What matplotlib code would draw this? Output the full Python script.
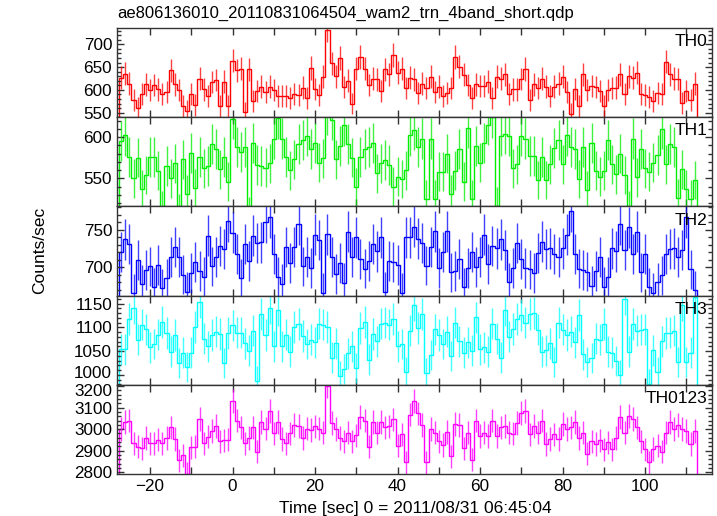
import numpy as np
import matplotlib
matplotlib.use('Agg')
import matplotlib.pyplot as plt
import matplotlib.transforms as mtransforms
from matplotlib.ticker import MultipleLocator

plt.rcParams['font.family'] = ['Liberation Sans', 'DejaVu Sans']

# 1 s bins, first bin centred at t = -27 s
t_start = -27
bin_width = 1.0

th0 = [627, 636, 614, 578, 561, 591, 612, 600, 611, 601, 591, 596, 643, 612, 599, 564, 554, 591, 567, 625,
       601, 587, 617, 622, 564, 618, 564,
       664, 643, 647, 551, 645, 576, 598, 607, 596, 607, 600, 587, 587, 587, 582, 591, 589, 605, 582, 648,
       602, 589, 629, 732, 658, 630, 670, 606, 620, 570, 647, 672, 647, 611, 625, 623, 598, 645, 634, 676,
       638, 647, 604,
       627, 623, 593, 614, 604, 629, 596, 607, 586, 593, 604, 672, 651, 633, 611, 582, 612, 609, 609, 618,
       583, 629, 625, 634, 591, 601, 601, 624, 646, 578, 612, 604, 625, 607, 587, 607, 614, 629, 596, 547,
       602, 565, 634, 600, 609, 606, 598, 565, 600, 604, 605, 634, 591, 630, 627, 638, 591, 589, 584, 575,
       593, 591, 662, 634, 625, 624, 571, 598, 578, 614]

th1 = [595, 602, 576, 550, 575, 537, 554, 576, 576, 559, 512, 565, 550, 568, 509, 573, 531, 581, 538, 576,
       562, 565, 592, 585, 561, 576, 546, 622, 588, 582, 588, 505, 593, 566, 565, 563, 568, 598, 623, 598,
       576, 560, 573, 592, 596, 601, 585, 593, 569, 574, 627, 621, 573, 589, 614, 592, 575, 539, 576, 585,
       588, 593, 556, 568, 572, 566, 540, 552, 549, 560, 602, 609, 588, 598, 525, 598, 525, 558, 558, 580,
       531, 559, 586, 546, 611, 525, 589, 569, 593, 615, 624, 517, 601, 604, 601, 562, 567, 601, 598, 577,
       577, 548, 576, 548, 567, 587, 596, 567, 602, 588, 586, 549, 588, 536, 593, 559, 552, 559, 596, 567,
       555, 580, 554, 512, 598, 551, 586, 562, 558, 569, 578, 610, 567, 592, 588, 526, 561, 537, 525, 548]

th2 = [720, 737, 731, 665, 710, 677, 696, 701, 673, 703, 672, 685, 713, 727, 714, 690, 667, 692, 707, 695,
       687, 742, 701, 714, 728, 724, 761, 746, 718, 685, 731, 708, 742, 732, 733, 760, 767, 718, 687, 678,
       727, 705, 727, 757, 701, 713, 699, 743, 736, 666, 744, 713, 691, 705, 679, 747, 714, 740, 711, 698,
       708, 731, 721, 740, 667, 708, 707, 703, 666, 740, 740, 754, 738, 732, 702, 727, 748, 699, 720, 748,
       693, 695, 711, 673, 699, 720, 700, 713, 743, 704, 728, 725, 737, 723, 680, 699, 732, 711, 699, 697,
       692, 719, 734, 724, 725, 717, 713, 725, 743, 775, 717, 698, 696, 694, 675, 695, 713, 674, 687, 725,
       721, 757, 723, 753, 717, 747, 693, 717, 673, 666, 680, 689, 717, 724, 725, 713, 723, 767, 697, 669]

th3 = [1054, 1054, 1118, 1140, 1074, 1106, 1096, 1058, 1065, 1085, 1112, 1088, 1049, 1084, 1025, 1047,
       1016, 1047, 1101, 1154, 1076, 1060, 1084, 1091, 1086, 1025, 1088, 1104, 1089, 1089, 1067, 1051,
       1093, 988, 1129, 1084, 1140, 1060, 1137, 1060, 1085, 1049, 1101, 1107, 1082, 1065, 1074, 1069,
       1108, 1106, 1101, 1036, 1067, 998, 1013, 1045, 1060, 1014, 1099, 1111, 1032, 1086, 1071, 1108,
       1110, 1106, 1118, 1060, 1065, 1005, 1093, 1148, 1099, 1128, 1003, 1042, 1096, 1084, 1065, 1091,
       1040, 1110, 1071, 1047, 1069, 1051, 1121, 1054, 1058, 1049, 1108, 1076, 1036, 1137, 1080, 1097,
       1118, 1126, 1110, 1128, 1130, 1095, 1049, 1052, 1067, 1027, 1110, 1095, 1084, 1091, 1069, 1126,
       1043, 1027, 1035, 1076, 1074, 1107, 1049, 1047, 1029, 999, 1160, 1049, 1107, 1093, 1095, 1096,
       980, 1052, 1005, 1071, 1088, 1089, 1093, 1027, 1148, 1027, 1047, 1165]

th0123 = [3000, 3032, 3040, 2935, 2919, 2911, 2960, 2935, 2935, 2952, 2935, 2960, 3008, 2955, 2855, 2879,
          2794, 2916, 2919, 3048, 2935, 2965, 2992, 3016, 2944, 2948, 2952, 3132, 3040, 3008, 2935, 2960,
          3008, 2895, 3032, 3003, 3085, 2981, 3032, 2955, 2935, 2981, 3019, 3016, 2960, 3003, 2997, 3013,
          3003, 2984, 3200, 3029, 3000, 2960, 2944, 2984, 2944, 2971, 3056, 3040, 2919, 3035, 2984, 3032,
          3008, 3013, 3045, 2923, 2976, 2847, 3068, 3132, 3073, 3019, 2847, 3000, 2984, 2944, 2927, 2987,
          2874, 3024, 3019, 2911, 2984, 2858, 3040, 2968, 2984, 2968, 3040, 2968, 3008, 3016, 2984, 2979,
          3029, 3076, 3084, 2976, 3016, 2984, 3040, 2932, 2955, 2976, 2955, 3024, 3000, 3008, 3032, 2960,
          2984, 2887, 2944, 2932, 2948, 2906, 2939, 2906, 2960, 3056, 2984, 3061, 3048, 3008, 2944, 2906,
          2847, 2908, 2923, 2895, 2984, 3035, 3000, 3019, 3000, 2992, 2931, 2992]

names = ['TH0', 'TH1', 'TH2', 'TH3', 'TH0123']
series = [th0, th1, th2, th3, th0123]
colors = ['#ff0000', '#00ee00', '#0000ff', '#00ffff', '#ff00ff']
ylims = [(540, 736), (516, 624), (662, 781), (979, 1167), (2792, 3206)]
ymajor = [50, 50, 50, 50, 100]
yminor = [10, 10, 10, 10, 20]

W, H = 717, 516
fig = plt.figure(figsize=(W / 100, H / 100), dpi=100)

left, right = 117, 712
top, bottom = 28, 474
ph = (bottom - top) / 5.0

axes = []
for i, (name, vals) in enumerate(zip(names, series)):
    vals = np.array(vals, dtype=float)
    t = t_start + np.arange(len(vals)) * bin_width
    edges = np.append(t - bin_width / 2, t[-1] + bin_width / 2)
    err = np.sqrt(vals * bin_width) / bin_width  # poisson error of the rate

    y0 = top + i * ph
    ax = fig.add_axes([left / W, 1 - (y0 + ph) / H, (right - left) / W, ph / H])
    ax.stairs(vals, edges, color=colors[i], lw=1.0)
    ax.errorbar(t, vals, yerr=err, fmt='none', ecolor=colors[i], elinewidth=1.0, alpha=0.75)

    ax.set_xlim(-28, 116.2)
    ax.set_ylim(*ylims[i])
    ax.xaxis.set_major_locator(MultipleLocator(20))
    ax.xaxis.set_minor_locator(MultipleLocator(10))
    ax.yaxis.set_major_locator(MultipleLocator(ymajor[i]))
    ax.yaxis.set_minor_locator(MultipleLocator(yminor[i]))
    ax.tick_params(which='both', direction='in', top=True, right=True, labelsize=12.3, width=1.0, color='#333333')
    ax.tick_params(which='major', length=5)
    ax.tick_params(which='minor', length=3)
    ax.tick_params(axis='x', which='minor', length=5)
    if i < 4:
        ax.tick_params(labelbottom=False)
    for sp in ax.spines.values():
        sp.set_linewidth(1.0)
        sp.set_color('#333333')
    ax.text(0.993, 0.93, name, transform=ax.transAxes, ha='right', va='top', fontsize=12.5)
    axes.append(ax)

# the 1000 (TH3) and 3200 (TH0123) labels sit right next to each other: nudge apart a little
fig.canvas.draw()
for lab in axes[3].get_yticklabels():
    if lab.get_text() == '1000':
        lab.set_transform(lab.get_transform() + mtransforms.ScaledTranslation(0, 3 / 100, fig.dpi_scale_trans))
for lab in axes[4].get_yticklabels():
    if lab.get_text() == '3200':
        lab.set_transform(lab.get_transform() + mtransforms.ScaledTranslation(0, -4 / 100, fig.dpi_scale_trans))

fig.text(left / W, 1 - 13 / H, 'ae806136010_20110831064504_wam2_trn_4band_short.qdp',
         ha='left', va='center', fontsize=12)
fig.text(40 / W, 1 - 250 / H, 'Counts/sec', rotation=90, ha='center', va='center', fontsize=12.5)
fig.text(415 / W, 1 - 508 / H, 'Time [sec] 0 = 2011/08/31 06:45:04', ha='center', va='center', fontsize=12.5)

fig.savefig('out.png', dpi=100)
